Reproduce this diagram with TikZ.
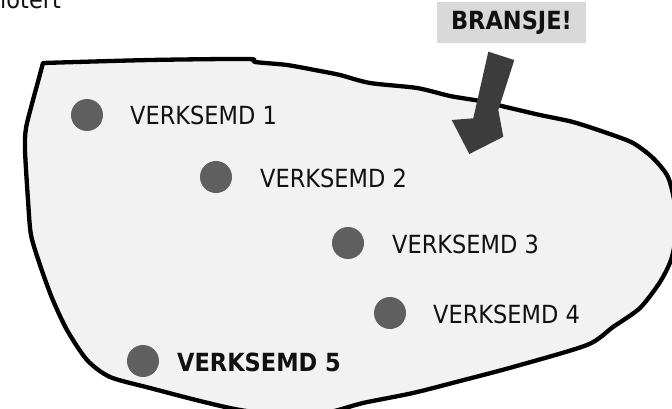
\documentclass[tikz,border=0pt]{standalone}
\usepackage{fontspec}
\setmainfont{DejaVu Sans}[FakeStretch=0.9]
\definecolor{blobfill}{HTML}{F2F2F2}
\definecolor{dotgray}{HTML}{5F5F5F}
\definecolor{arrowgray}{HTML}{3C3C3C}
\definecolor{boxgray}{HTML}{D9D9D9}
\definecolor{txt}{HTML}{111111}
\tikzset{
  dot/.style={circle, fill=dotgray, minimum size=32pt, inner sep=0pt},
  lbl/.style={anchor=base west, inner sep=0pt, text=txt, font=\fontsize{25}{30}\selectfont},
  blob/.style={draw=black, fill=blobfill, line width=4.3pt, line join=round},
}
\begin{document}
\begin{tikzpicture}[x=1pt,y=-1pt]
\useasboundingbox (0,0) rectangle (672,409);
\clip (0,0) rectangle (672,409);
% top-left clipped text
\node[lbl] (toptext) at (0,9) {iotert};
% blob
\draw[blob] plot[smooth, tension=0.45] coordinates {
 (43,63) (150,60) (248,59) (255,62) (287,65) (320,71) (340,75) (370,83) (417,88)
 (450,96) (480,101) (510,108) (540,115) (573,122) (607,133) (633,143)
 (653,158) (668,177) (675,205) (676,235) (671,260) (660,282) (640,308)
 (613,327) (587,345) (513,367) (460,381) (413,393) (363,403) (330,412)
 (290,416) (240,410) (200,401) (150,388) (110,377) (87,360) (67,330)
 (52,298) (40,265) (31,235) (28,200) (25,150) (26,128) (33,100) (39,78) (43,63)
} -- cycle;
% arrow
\fill[arrowgray] (488.3,51.7) -- (514.3,60) -- (498.3,110) -- (503.3,136.7)
  -- (469.3,154) -- (451.7,120) -- (473.3,118.3) -- cycle;
% label box
\node[fill=boxgray, minimum width=149pt, minimum height=41pt, inner sep=0pt,
  font=\fontsize{25}{30}\selectfont\bfseries, text=txt] (bransje) at (511.5,22.5) {BRANSJE!};
% dots
\node[dot] (d1) at (87,115) {};
\node[dot] (d2) at (216,177) {};
\node[dot] (d3) at (348,243) {};
\node[dot] (d4) at (390,313) {};
\node[dot] (d5) at (143,361) {};
% labels
\node[lbl] (l1) at (130,125) {VERKSEMD 1};
\node[lbl] (l2) at (260,187) {VERKSEMD 2};
\node[lbl] (l3) at (392,253) {VERKSEMD 3};
\node[lbl] (l4) at (433,323) {VERKSEMD 4};
\node[lbl, font=\fontsize{25}{30}\selectfont\bfseries] (l5) at (177,371) {VERKSEMD 5};
\end{tikzpicture}
\end{document}
